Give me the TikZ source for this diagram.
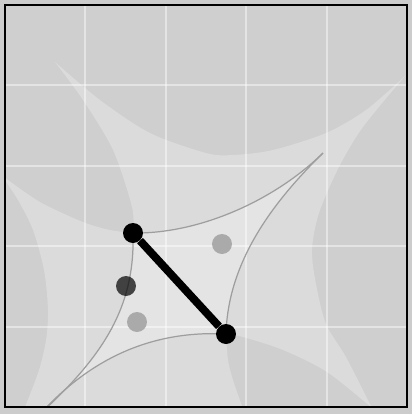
\documentclass[tikz,border=0pt]{standalone}
\usepackage{tikz}
\usetikzlibrary{positioning}
\definecolor{margingrey}{RGB}{204,204,204}
\definecolor{diskgrey}{RGB}{207,207,207}
\definecolor{lightgrey}{RGB}{219,219,219}
\definecolor{cellgrey}{RGB}{228,228,228}
\definecolor{arcgrey}{RGB}{158,158,158}
\definecolor{dotgrey}{RGB}{170,170,170}

\begin{document}
\begin{tikzpicture}[x=0.02cm,y=-0.02cm,
  bigdot/.style={circle,fill=black,inner sep=0pt,minimum size=0.4cm},
  greydot/.style={circle,fill=dotgrey,inner sep=0pt,minimum size=0.4cm},
  shadedot/.style={circle,fill=black,fill opacity=0.7,inner sep=0pt,minimum size=0.4cm},
  gridline/.style={white,opacity=0.45,line width=1.1pt},
  cusparc/.style={arcgrey,line width=0.7pt}]
\useasboundingbox[fill=margingrey] (0,0) rectangle (412,414);
\fill[diskgrey] (5,5) rectangle (407,407);
\coordinate (cusp1) at (323,153);
\coordinate (cusp2) at (42,412);
\coordinate (c1) at (133,233);
\coordinate (c2) at (226,334);
\begin{scope}
\clip (5,5) rectangle (407,407);
% region left free by the dark disks
\fill[lightgrey] plot[smooth] coordinates {(55,62) (100,100) (150,133) (206,153) (233,155) (273,150) (326,133) (366,110) (405,76)}
  -- plot[smooth] coordinates {(405,76) (363,127) (339,167) (319,213) (312,250) (316,284) (326,324) (346,357) (372,408)}
  -- plot[smooth] coordinates {(372,408) (327,372) (283,350) (243,337) (226,334)}
  -- plot[smooth] coordinates {(226,334) (228,360) (233,380) (242,406) (244,412)}
  -- (22,412)
  -- plot[smooth] coordinates {(22,412) (25,407) (39,370) (46,340) (48,310) (44,270) (33,230) (18,200) (4,179)}
  -- plot[smooth] coordinates {(4,177) (40,202) (83,222) (110,230) (133,233)}
  -- plot[smooth] coordinates {(133,233) (132,207) (113,150) (83,100) (55,62)} -- cycle;
% inner cell
\fill[cellgrey] (c1) .. controls (200,234) and (275,200) .. (cusp1)
  .. controls (275,200) and (228,260) .. (c2)
  .. controls (150,330) and (90,360) .. (cusp2)
  .. controls (110,350) and (135,300) .. (c1) -- cycle;
\foreach \g in {85.4,165.8,246.2,326.6}{
  \draw[gridline] (\g,5) -- (\g,407);
  \draw[gridline] (5,\g) -- (407,\g);
}
\draw[cusparc] (c1) .. controls (200,234) and (275,200) .. (cusp1);
\draw[cusparc] (cusp1) .. controls (275,200) and (228,260) .. (c2);
\draw[cusparc] (c2) .. controls (150,330) and (90,360) .. (cusp2);
\draw[cusparc] (cusp2) .. controls (110,350) and (135,300) .. (c1);
\end{scope}
\draw[line width=1.2pt] (5,5) rectangle (407,407);
\node[greydot] (g1) at (222,244) {};
\node[greydot] (g2) at (137,322) {};
\node[shadedot] (s1) at (126,286) {};
\node[bigdot] (p1) at (c1) {};
\node[bigdot] (p2) at (c2) {};
\draw[line width=4.5pt] (p1) -- (p2);
\end{tikzpicture}
\end{document}
